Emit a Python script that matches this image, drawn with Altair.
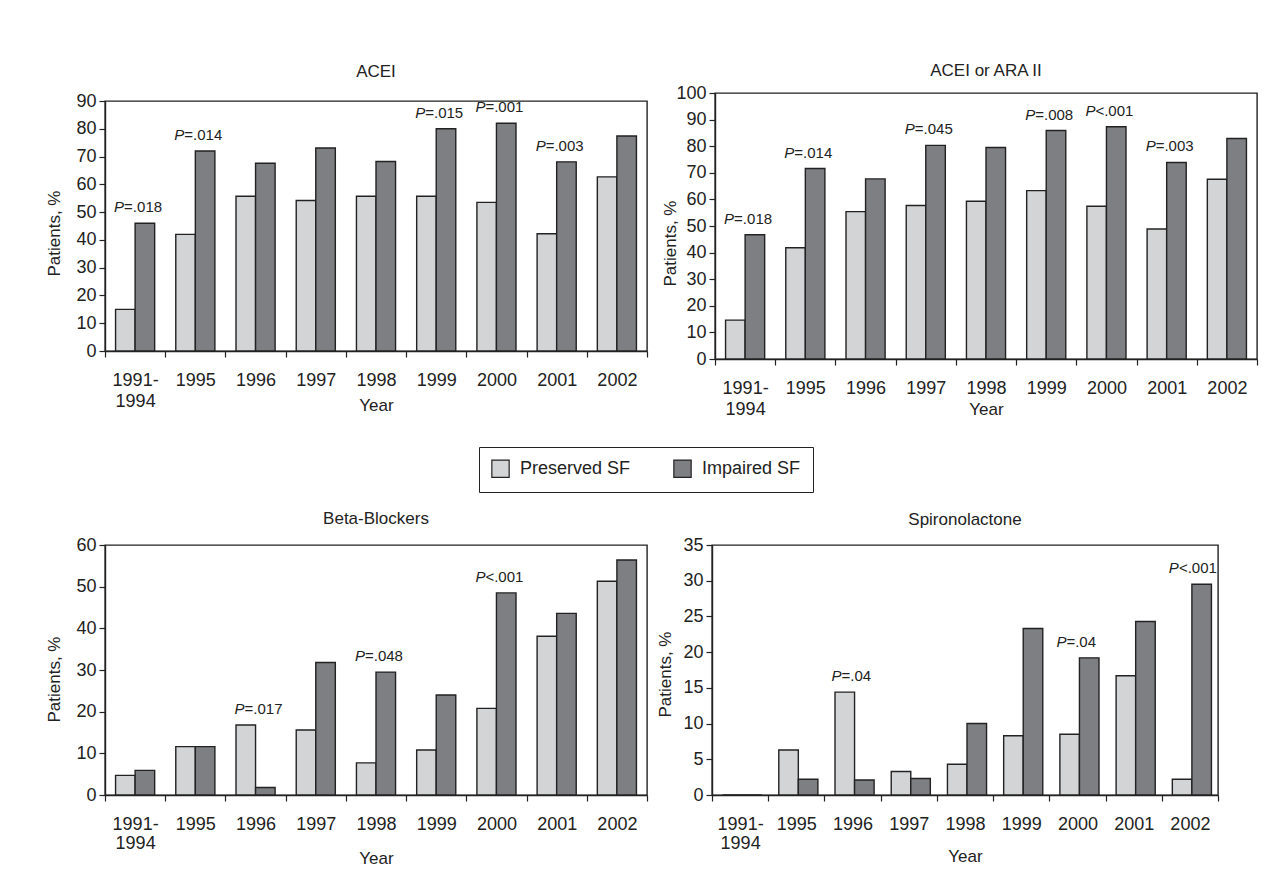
import altair as alt
import pandas as pd

FONT = "Liberation Sans, Arial, sans-serif"
INK = "#222222"

years = ["1991-1994", "1995", "1996", "1997", "1998", "1999", "2000", "2001", "2002"]
groups = ["Preserved SF", "Impaired SF"]
group_colors = ["#d3d4d6", "#7e7f83"]

# ACEI
acei_preserved = [15, 42, 55.7, 54.2, 55.7, 55.7, 53.5, 42.2, 62.7]
acei_impaired = [46, 72, 67.6, 73.1, 68.2, 80, 82, 68.1, 77.4]
acei_p_years = ["1991-1994", "1995", "1999", "2000", "2001"]
acei_p_texts = ["=.018", "=.014", "=.015", "=.001", "=.003"]

# ACEI or ARA II
ara_preserved = [14.6, 41.8, 55.4, 57.7, 59.3, 63.3, 57.4, 48.9, 67.6]
ara_impaired = [46.7, 71.6, 67.7, 80.3, 79.5, 85.9, 87.3, 73.9, 82.9]
ara_p_years = ["1991-1994", "1995", "1997", "1999", "2000", "2001"]
ara_p_texts = ["=.018", "=.014", "=.045", "=.008", "<.001", "=.003"]

# Beta-Blockers
beta_preserved = [4.7, 11.6, 16.8, 15.6, 7.7, 10.8, 20.8, 38.1, 51.3]
beta_impaired = [5.9, 11.6, 1.8, 31.8, 29.5, 24.0, 48.5, 43.6, 56.4]
beta_p_years = ["1996", "1998", "2000"]
beta_p_texts = ["=.017", "=.048", "<.001"]

# Spironolactone
spiro_preserved = [0, 6.3, 14.4, 3.3, 4.3, 8.3, 8.5, 16.7, 2.2]
spiro_impaired = [0, 2.2, 2.1, 2.3, 10.0, 23.3, 19.2, 24.3, 29.5]
spiro_p_years = ["1996", "2000", "2002"]
spiro_p_texts = ["=.04", "=.04", "<.001"]


def panel(title, preserved, impaired, p_years, p_texts, ymax, ystep,
          width, height, title_offset, ytitle_x, ytitle_y, xtitle_y,
          line_height, show_legend=False):
    rows = []
    for i, yr in enumerate(years):
        rows.append({"year": yr, "group": groups[0], "value": preserved[i]})
        rows.append({"year": yr, "group": groups[1], "value": impaired[i]})
    df = pd.DataFrame(rows)
    tops = {yr: max(preserved[i], impaired[i]) for i, yr in enumerate(years)}
    pdf = pd.DataFrame({"year": p_years, "text": p_texts,
                        "value": [tops[y] for y in p_years]})

    yvals = list(range(0, ymax + 1, ystep))
    if show_legend:
        legend = alt.Legend(
            title=None, orient="none", direction="horizontal",
            legendX=374, legendY=354,
            symbolType="square", symbolSize=300, symbolStrokeColor=INK,
            symbolStrokeWidth=1.2, symbolOpacity=1,
            labelFont=FONT, labelFontSize=18, labelColor=INK,
            columns=2, columnPadding=40, labelOffset=10, gridAlign="all",
            strokeColor=INK, fillColor="white",
            padding=12, cornerRadius=0,
        )
    else:
        legend = None

    x_axis = alt.Axis(
        labelAngle=0, tickBand="extent", tickSize=6,
        labelPadding=14, labelLineHeight=line_height,
        labelExpr="datum.value == '1991-1994' ? ['1991-', '1994'] : datum.label",
        titleY=xtitle_y, titleBaseline="middle",
    )
    y_axis = alt.Axis(values=yvals, tickSize=6, labelPadding=3,
                      labelOverlap=False, tickCount=len(yvals),
                      titleX=ytitle_x, titleY=ytitle_y,
                      titleBaseline="middle")
    y_scale = alt.Scale(domain=[0, ymax], nice=False, zero=True)

    bars = alt.Chart(df).mark_bar(stroke=INK, strokeWidth=1.4).encode(
        x=alt.X("year:N", sort=years, title="Year",
                scale=alt.Scale(paddingInner=0, paddingOuter=0), axis=x_axis),
        xOffset=alt.XOffset("group:N", sort=groups,
                            scale=alt.Scale(paddingInner=0, paddingOuter=0.54)),
        y=alt.Y("value:Q", title="Patients, %", scale=y_scale, axis=y_axis),
        fill=alt.Fill("group:N", sort=groups,
                      scale=alt.Scale(domain=groups, range=group_colors),
                      legend=legend),
    )
    ann = alt.Chart(pdf)
    xa = alt.X("year:N", sort=years, title="Year", axis=x_axis)
    ya = alt.Y("value:Q", title="Patients, %", scale=y_scale, axis=y_axis)
    p_letter = ann.mark_text(
        text="P", fontStyle="italic", align="right", baseline="alphabetic",
        dx=-11, dy=-11, font=FONT, fontSize=15, color=INK,
    ).encode(x=xa, y=ya)
    p_rest = ann.mark_text(
        align="left", baseline="alphabetic",
        dx=-11, dy=-11, font=FONT, fontSize=15, color=INK,
    ).encode(x=xa, y=ya, text="text:N")

    return alt.layer(bars, p_letter, p_rest).properties(
        width=width, height=height,
        title=alt.Title(title, fontSize=17, fontWeight="normal", font=FONT,
                        color=INK, offset=title_offset, anchor="middle"),
    )


p1 = panel("ACEI", acei_preserved, acei_impaired, acei_p_years, acei_p_texts,
           90, 10, 542, 250, 11, -51, 132, 54, 21, show_legend=True)
p2 = panel("ACEI or ARA II", ara_preserved, ara_impaired, ara_p_years, ara_p_texts,
           100, 10, 542, 266, 4, -45, 150, 50, 21)
p3 = panel("Beta-Blockers", beta_preserved, beta_impaired, beta_p_years, beta_p_texts,
           60, 10, 542, 250, 8, -51, 134, 63, 19)
p4 = panel("Spironolactone", spiro_preserved, spiro_impaired, spiro_p_years, spiro_p_texts,
           35, 5, 506, 250, 7, -47, 129, 61, 19)

row1 = alt.hconcat(p1, p2, spacing=68, bounds="flush", center=True)
row2 = alt.hconcat(p3, p4, spacing=65, bounds="flush")

chart = alt.vconcat(row1, row2, spacing=452, bounds="flush").properties(
    padding={"left": 36, "top": 53, "right": 5, "bottom": 5},
    background="white",
).resolve_legend(fill="independent").configure_view(
    stroke=INK, strokeWidth=1.4,
).configure_axis(
    grid=False, domainColor=INK, tickColor=INK, labelColor=INK, titleColor=INK,
    labelFont=FONT, titleFont=FONT, labelFontSize=18, titleFontSize=17,
    titleFontWeight="normal", domainWidth=1.4, tickWidth=1.2,
)

chart.save("out.html", embed_options={"renderer": "svg", "actions": False})
